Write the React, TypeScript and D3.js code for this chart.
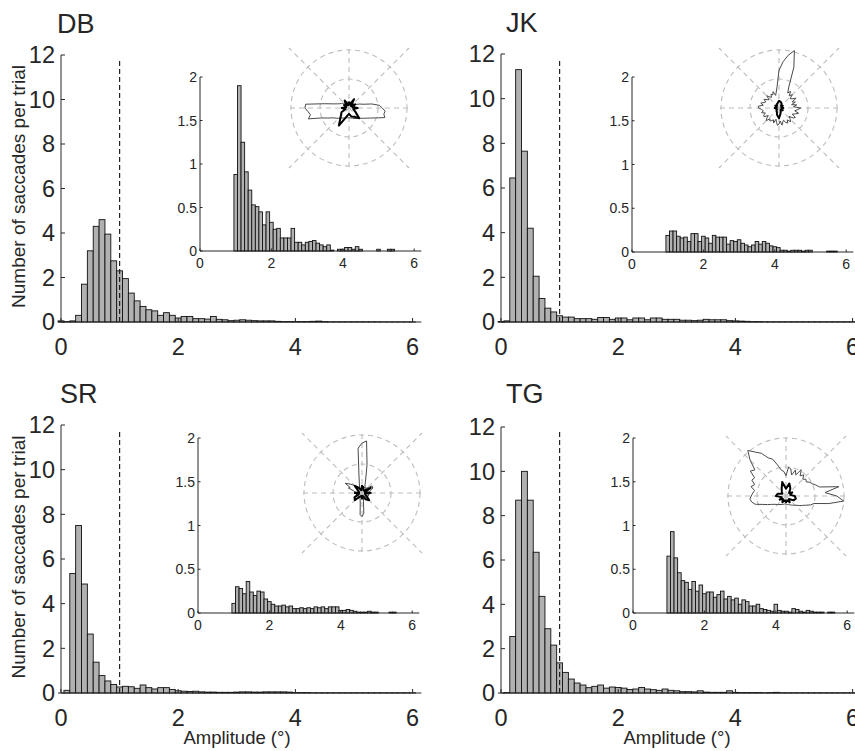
import React from 'react';
import * as d3 from 'd3';

// ---------- DATA ----------
const SUBJECTS = ['DB', 'JK', 'SR', 'TG'];
const BIN_CENTERS = d3.range(61).map((i) => i / 10);
const INSET_BIN_CENTERS = d3.range(10, 61).map((i) => i / 10);
const MAIN_Y_TICKS = [0, 2, 4, 6, 8, 10, 12];
const MAIN_Y_TICK_LABELS = ['0', '2', '4', '6', '8', '10', '12'];
const X_TICKS = [0, 2, 4, 6];
const X_TICK_LABELS = ['0', '2', '4', '6'];
const INSET_Y_TICKS = [0, 0.5, 1, 1.5, 2];
const INSET_Y_TICK_LABELS = ['0', '0.5', '1', '1.5', '2'];
const GRAY_ANGLES = d3.range(0, 360, 5);
const BLACK_ANGLES = d3.range(0, 360, 15);
const POLAR_RINGS = [1, 2];
const POLAR_SPOKES = [0, 45, 90, 135, 180, 225, 270, 315];
const THRESHOLD = 1;

const DB_MAIN = [
  0.05, 0.02, 0.05, 0.3, 1.7, 3.2, 4.3, 4.6, 3.95, 2.75, 2.3, 1.95, 1.3, 0.95, 0.7, 0.55, 0.5, 0.3, 0.42, 0.3,
  0.18, 0.25, 0.25, 0.15, 0.15, 0.13, 0.25, 0.12, 0.1, 0.06, 0.08, 0.1, 0.08, 0.06, 0.05, 0.05, 0.05, 0.03, 0.02, 0.02,
  0.02, 0.02, 0.02, 0.03, 0.04, 0.02, 0.01, 0.01, 0.01, 0.01, 0.01, 0.01, 0.01, 0.01, 0.01, 0.005, 0.005, 0.005, 0.005, 0.005, 0.005,
];
const JK_MAIN = [
  0.02, 0.05, 6.45, 11.3, 7.65, 4.2, 2.05, 1.05, 0.62, 0.45, 0.28, 0.22, 0.22, 0.15, 0.15, 0.15, 0.12, 0.2, 0.2, 0.12,
  0.18, 0.18, 0.1, 0.18, 0.18, 0.1, 0.18, 0.18, 0.12, 0.12, 0.12, 0.08, 0.08, 0.06, 0.08, 0.12, 0.1, 0.1, 0.1, 0.06,
  0.05, 0.04, 0.03, 0.02, 0.02, 0.01, 0.01, 0.01, 0.01, 0.01, 0.01, 0.01, 0.01, 0.01, 0.01, 0.01, 0.01, 0.01, 0.01, 0.01, 0.01,
];
const SR_MAIN = [
  0, 0.12, 5.35, 7.5, 4.88, 2.64, 1.38, 0.78, 0.54, 0.38, 0.27, 0.3, 0.28, 0.21, 0.36, 0.24, 0.18, 0.24, 0.24, 0.16,
  0.1, 0.08, 0.07, 0.08, 0.05, 0.04, 0.04, 0.03, 0.03, 0.03, 0.04, 0.05, 0.05, 0.04, 0.04, 0.05, 0.05, 0.05, 0.05, 0.04,
  0.02, 0.02, 0.02, 0.01, 0.01, 0.01, 0.01, 0.01, 0.01, 0.01, 0.01, 0.01, 0.01, 0.01, 0.01, 0.01, 0.01, 0.01, 0.01, 0.01, 0.01,
];
const TG_MAIN = [
  0, 0.02, 2.55, 8.7, 10.0, 8.7, 6.35, 4.36, 2.9, 2.16, 1.36, 0.93, 0.63, 0.45, 0.36, 0.24, 0.3, 0.36, 0.22, 0.27,
  0.25, 0.22, 0.16, 0.18, 0.25, 0.18, 0.15, 0.12, 0.18, 0.12, 0.1, 0.06, 0.06, 0.05, 0.1, 0.04, 0.03, 0.03, 0.03, 0.1,
  0.03, 0.02, 0.02, 0.02, 0.02, 0.01, 0.02, 0.03, 0.01, 0.01, 0.01, 0.01, 0.01, 0.01, 0.01, 0.01, 0.01, 0.01, 0.01, 0.01, 0.01,
];

// insets: bins from 1.0 to 6.0
const DB_INSET = [
  0.88, 1.9, 1.25, 0.91, 0.7, 0.53, 0.51, 0.45, 0.3, 0.45, 0.33, 0.25, 0.26, 0.15, 0.15, 0.15, 0.26, 0.1, 0.1, 0.07,
  0.1, 0.11, 0.12, 0.09, 0.07, 0.05, 0.07, 0.01, 0, 0.02, 0.02, 0.04, 0.04, 0.02, 0.05, 0.02, 0, 0, 0, 0,
  0.02, 0, 0, 0.02, 0.02, 0, 0, 0, 0, 0, 0,
];
const JK_INSET = [
  0.19, 0.24, 0.24, 0.18, 0.16, 0.17, 0.12, 0.21, 0.21, 0.12, 0.18, 0.16, 0.1, 0.19, 0.17, 0.17, 0.17, 0.09, 0.13, 0.12,
  0.14, 0.1, 0.08, 0.06, 0.08, 0.12, 0.09, 0.12, 0.1, 0.07, 0.06, 0.05, 0.02, 0.02, 0.01, 0.02, 0.02, 0.02, 0.01, 0.02,
  0.02, 0, 0, 0, 0, 0.01, 0.01, 0.01, 0, 0, 0,
];
const SR_INSET = [
  0.11, 0.3, 0.28, 0.22, 0.36, 0.24, 0.2, 0.25, 0.24, 0.16, 0.13, 0.1, 0.08, 0.08, 0.09, 0.07, 0.08, 0.05, 0.05, 0.06,
  0.05, 0.06, 0.05, 0.07, 0.06, 0.07, 0.05, 0.07, 0.07, 0.07, 0.03, 0.03, 0.04, 0.03, 0.02, 0.01, 0.01, 0.01, 0.02, 0.01,
  0.01, 0, 0, 0, 0.01, 0.01, 0, 0, 0, 0, 0,
];
const TG_INSET = [
  0.65, 0.93, 0.63, 0.46, 0.37, 0.35, 0.27, 0.36, 0.25, 0.32, 0.22, 0.24, 0.24, 0.18, 0.21, 0.25, 0.16, 0.19, 0.15, 0.17,
  0.1, 0.15, 0.13, 0.08, 0.08, 0.1, 0.05, 0.04, 0.03, 0.02, 0.1, 0.03, 0.02, 0.02, 0.01, 0.05, 0.04, 0.02, 0.01, 0.03,
  0.02, 0.01, 0.01, 0.01, 0, 0.01, 0.01, 0, 0, 0, 0,
];

// polar direction profiles (angle CCW from east; outer ring = 2)
const DB_GRAY = [
  1.15, 1.05, 0.8, 0.5, 0.4, 0.3, 0.25, 0.22, 0.2, 0.22, 0.2, 0.18, 0.2, 0.22, 0.18, 0.2, 0.22, 0.18, 0.2, 0.18,
  0.2, 0.22, 0.2, 0.22, 0.25, 0.22, 0.25, 0.22, 0.25, 0.28, 0.3, 0.35, 0.42, 0.55, 0.85, 1.5, 1.52, 1.42, 1.35, 1.45,
  1.0, 0.82, 0.68, 0.6, 0.55, 0.5, 0.45, 0.42, 0.4, 0.38, 0.36, 0.35, 0.34, 0.34, 0.34, 0.34, 0.35, 0.36, 0.37, 0.4,
  0.42, 0.44, 0.46, 0.5, 0.55, 0.62, 0.7, 0.82, 1.0, 1.28, 1.22, 1.25,
];
const DB_BLACK = [
  0.3, 0.12, 0.25, 0.1, 0.35, 0.12, 0.2, 0.1, 0.3, 0.12, 0.2, 0.1, 0.25, 0.12, 0.3, 0.4, 0.7, 0.3, 0.2, 0.3, 0.35, 0.5, 0.25, 0.15,
];
const JK_GRAY = [
  0.75, 0.5, 0.62, 0.45, 0.6, 0.5, 0.68, 0.55, 0.5, 0.65, 0.55, 0.7, 0.6, 0.8, 1.5, 2.05, 1.85, 1.6, 1.3, 0.75,
  0.55, 0.45, 0.6, 0.5, 0.55, 0.45, 0.5, 0.6, 0.45, 0.5, 0.6, 0.5, 0.55, 0.65, 0.55, 0.72, 0.7, 0.6, 0.55, 0.62,
  0.5, 0.58, 0.6, 0.45, 0.55, 0.62, 0.48, 0.55, 0.5, 0.45, 0.55, 0.4, 0.5, 0.6, 0.55, 0.45, 0.6, 0.5, 0.45, 0.55,
  0.6, 0.5, 0.62, 0.55, 0.45, 0.6, 0.65, 0.5, 0.6, 0.7, 0.55, 0.65,
];
const JK_BLACK = [
  0.15, 0.08, 0.15, 0.1, 0.18, 0.22, 0.25, 0.18, 0.15, 0.1, 0.15, 0.08, 0.15, 0.1, 0.08, 0.12, 0.15, 0.25, 0.35, 0.2, 0.12, 0.08, 0.15, 0.08,
];
const SR_GRAY = [
  0.25, 0.2, 0.28, 0.3, 0.35, 0.42, 0.4, 0.43, 0.3, 0.25, 0.2, 0.22, 0.2, 0.25, 0.3, 0.5, 1.0, 1.8, 1.72, 1.55,
  0.6, 0.35, 0.25, 0.2, 0.22, 0.25, 0.3, 0.35, 0.45, 0.55, 0.67, 0.45, 0.5, 0.3, 0.25, 0.2, 0.22, 0.2, 0.18, 0.2,
  0.18, 0.15, 0.18, 0.15, 0.18, 0.2, 0.15, 0.18, 0.15, 0.18, 0.2, 0.25, 0.35, 0.75, 0.82, 0.7, 0.3, 0.2, 0.15, 0.18,
  0.15, 0.18, 0.2, 0.18, 0.2, 0.22, 0.2, 0.25, 0.22, 0.25, 0.22, 0.2,
];
const SR_BLACK = [
  0.3, 0.1, 0.35, 0.12, 0.1, 0.2, 0.25, 0.1, 0.2, 0.35, 0.15, 0.1, 0.25, 0.1, 0.3, 0.35, 0.15, 0.1, 0.2, 0.1, 0.25, 0.35, 0.15, 0.1,
];
const TG_GRAY = [
  1.75, 1.35, 1.85, 1.2, 1.1, 1.0, 0.95, 0.85, 0.9, 0.82, 0.95, 0.85, 1.05, 0.8, 0.95, 0.75, 0.95, 1.0, 0.7, 0.85,
  0.9, 1.1, 1.35, 1.45, 1.7, 1.85, 2.05, 1.75, 1.4, 1.5, 1.25, 1.3, 1.15, 1.25, 1.1, 1.15, 1.2, 1.25, 1.2, 1.1,
  0.85, 0.7, 0.58, 0.5, 0.45, 0.42, 0.38, 0.36, 0.34, 0.32, 0.3, 0.3, 0.28, 0.28, 0.28, 0.29, 0.3, 0.3, 0.32, 0.34,
  0.36, 0.38, 0.42, 0.45, 0.5, 0.58, 0.65, 0.75, 0.9, 1.0, 1.5, 2.0,
];
const TG_BLACK = [
  0.3, 0.15, 0.25, 0.15, 0.3, 0.45, 0.25, 0.5, 0.3, 0.2, 0.15, 0.3, 0.35, 0.15, 0.25, 0.15, 0.25, 0.15, 0.22, 0.15, 0.25, 0.15, 0.3, 0.35,
];

const MAIN_SERIES = [DB_MAIN, JK_MAIN, SR_MAIN, TG_MAIN];
const INSET_SERIES = [DB_INSET, JK_INSET, SR_INSET, TG_INSET];
const GRAY_SERIES = [DB_GRAY, JK_GRAY, SR_GRAY, TG_GRAY];
const BLACK_SERIES = [DB_BLACK, JK_BLACK, SR_BLACK, TG_BLACK];

// ---------- LAYOUT ----------
const LAYOUT = [
  { ax: 61, yTop: 55, yBot: 322, ix: 200, iyTop: 77, iyBot: 251, pcx: 349, pcy: 108, tx: 57, ty: 33, ylab: true, xlab: false },
  { ax: 501, yTop: 54, yBot: 322, ix: 632, iyTop: 77, iyBot: 252, pcx: 779, pcy: 108, tx: 506, ty: 32, ylab: false, xlab: false },
  { ax: 61, yTop: 425, yBot: 693, ix: 198, iyTop: 438, iyBot: 613, pcx: 362, pcy: 493, tx: 60, ty: 403, ylab: true, xlab: true },
  { ax: 501, yTop: 427, yBot: 693, ix: 633, iyTop: 438, iyBot: 613, pcx: 786, pcy: 496, tx: 506, ty: 403, ylab: false, xlab: true },
];
const MAIN_PX_PER_UNIT = 58.6;
const INSET_PX_PER_UNIT = 35.7;
const MAIN_XMAX = 6.15;
const INSET_XMAX = 6.2;
const POLAR_R = 58;
const SPOKE_HALF = 60;
const AXIS = '#262626';
const GRID = '#bdbdbd';
const FONT = '"Liberation Sans", Arial, Helvetica, sans-serif';

function Bars({ centers, values, x, y }) {
  return (
    <g>
      {values.map((v, i) => {
        if (v <= 0) return null;
        const c = centers[i];
        const x0 = x(c - 0.05);
        const x1 = x(c + 0.05);
        return (
          <rect key={i} x={x0} y={y(v)} width={x1 - x0} height={Math.max(0.01, y(0) - y(v))}
            fill="#b1b1b1" stroke="#111" strokeWidth={0.9} />
        );
      })}
    </g>
  );
}

function Polar({ cx, cy, gray, black }) {
  const r = d3.scaleLinear().domain([0, 2]).range([0, POLAR_R]);
  const toRad = (deg) => (Math.PI / 2) - (deg * Math.PI) / 180;
  const grayLine = d3.lineRadial().angle((d, i) => toRad(GRAY_ANGLES[i])).radius((d) => r(d)).curve(d3.curveLinearClosed);
  const blackLine = d3.lineRadial().angle((d, i) => toRad(BLACK_ANGLES[i])).radius((d) => r(d)).curve(d3.curveLinearClosed);
  return (
    <g transform={`translate(${cx},${cy})`}>
      {POLAR_RINGS.map((k) => (
        <circle key={k} r={r(k)} fill="none" stroke={GRID} strokeWidth={1.1} strokeDasharray="5,4" />
      ))}
      {POLAR_SPOKES.map((a) => {
        const rad = (a * Math.PI) / 180;
        const c = Math.cos(rad), s = Math.sin(rad);
        const f = SPOKE_HALF / Math.max(Math.abs(c), Math.abs(s));
        return (
          <line key={a} x1={0} y1={0} x2={c * f} y2={-s * f} stroke={GRID} strokeWidth={1.1} strokeDasharray="5,4" />
        );
      })}
      <path d={grayLine(gray)} fill="none" stroke="#4a4a4a" strokeWidth={1} strokeLinejoin="round" />
      <path d={blackLine(black)} fill="none" stroke="#000" strokeWidth={2} strokeLinejoin="round" />
    </g>
  );
}

function Panel({ idx }) {
  const L = LAYOUT[idx];
  const x = d3.scaleLinear().domain([0, MAIN_XMAX]).range([L.ax, L.ax + MAIN_XMAX * MAIN_PX_PER_UNIT]);
  const y = d3.scaleLinear().domain([0, 12]).range([L.yBot, L.yTop]);
  const ix = d3.scaleLinear().domain([0, INSET_XMAX]).range([L.ix, L.ix + INSET_XMAX * INSET_PX_PER_UNIT]);
  const iy = d3.scaleLinear().domain([0, 2]).range([L.iyBot, L.iyTop]);

  return (
    <g fontFamily={FONT} fill={AXIS}>
      <text x={L.tx} y={L.ty} fontSize={27}>{SUBJECTS[idx]}</text>

      {/* main histogram */}
      <Bars centers={BIN_CENTERS} values={MAIN_SERIES[idx]} x={x} y={y} />
      <line x1={x(THRESHOLD)} x2={x(THRESHOLD)} y1={y(0)} y2={y(11.8)} stroke="#222" strokeWidth={1.2} strokeDasharray="5,3" />
      <line x1={x(0)} x2={x(0)} y1={y(0)} y2={y(12)} stroke={AXIS} strokeWidth={1} />
      <line x1={x(0) - 3} x2={x(MAIN_XMAX)} y1={y(0)} y2={y(0)} stroke={AXIS} strokeWidth={1} />
      {MAIN_Y_TICKS.map((t, i) => (
        <g key={t}>
          <line x1={x(0)} x2={x(0) + 4} y1={y(t)} y2={y(t)} stroke={AXIS} />
          <text x={x(0) - 6} y={y(t)} dy="0.36em" textAnchor="end" fontSize={23.5}>{MAIN_Y_TICK_LABELS[i]}</text>
        </g>
      ))}
      {X_TICKS.map((t, i) => (
        <g key={t}>
          <line x1={x(t)} x2={x(t)} y1={y(0)} y2={y(0) - 4} stroke={AXIS} />
          <text x={x(t)} y={y(0) + 33} textAnchor="middle" fontSize={23.5}>{X_TICK_LABELS[i]}</text>
        </g>
      ))}
      {L.ylab && (
        <text transform={`translate(25,${(L.yTop + L.yBot) / 2 - 2}) rotate(-90)`} textAnchor="middle" fontSize={19}>
          Number of saccades per trial
        </text>
      )}
      {L.xlab && (
        <text x={L.ax + 176} y={744} textAnchor="middle" fontSize={18.5}>Amplitude (°)</text>
      )}

      {/* inset */}
      <Bars centers={INSET_BIN_CENTERS} values={INSET_SERIES[idx]} x={ix} y={iy} />
      <line x1={ix(0)} x2={ix(0)} y1={iy(0)} y2={iy(2)} stroke={AXIS} strokeWidth={1} />
      <line x1={ix(0)} x2={ix(INSET_XMAX)} y1={iy(0)} y2={iy(0)} stroke={AXIS} strokeWidth={1} />
      {INSET_Y_TICKS.map((t, i) => (
        <g key={t}>
          <line x1={ix(0)} x2={ix(0) + 2.5} y1={iy(t)} y2={iy(t)} stroke={AXIS} />
          <text x={ix(0) - 3} y={iy(t)} dy="0.36em" textAnchor="end" fontSize={14}>{INSET_Y_TICK_LABELS[i]}</text>
        </g>
      ))}
      {X_TICKS.map((t, i) => (
        <g key={t}>
          <line x1={ix(t)} x2={ix(t)} y1={iy(0)} y2={iy(0) - 2.5} stroke={AXIS} />
          <text x={ix(t)} y={iy(0) + 17} textAnchor="middle" fontSize={14}>{X_TICK_LABELS[i]}</text>
        </g>
      ))}

      <Polar cx={L.pcx} cy={L.pcy} gray={GRAY_SERIES[idx]} black={BLACK_SERIES[idx]} />
    </g>
  );
}

export default function App() {
  return (
    <svg width={855} height={751} style={{ position: 'absolute', left: 0, top: 0, background: '#fff' }}>
      <rect width={855} height={751} fill="#fff" />
      {SUBJECTS.map((s, i) => <Panel key={s} idx={i} />)}
    </svg>
  );
}
